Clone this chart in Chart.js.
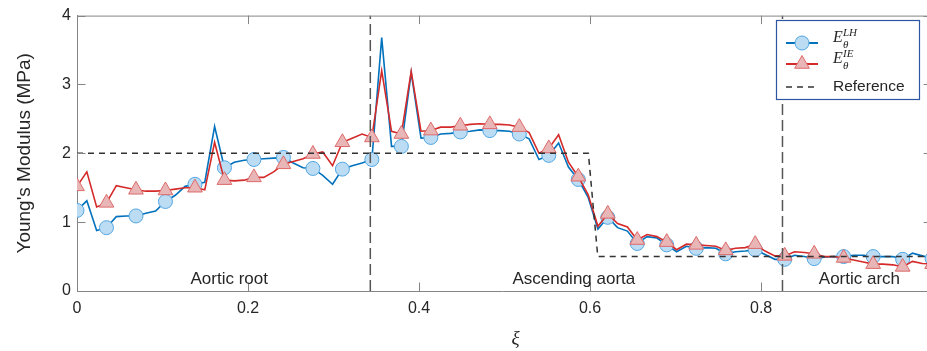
<!DOCTYPE html>
<html>
<head>
<meta charset="utf-8">
<script src="https://cdn.jsdelivr.net/npm/chart.js@4.4.1/dist/chart.umd.min.js"></script>
<style>
  html, body { margin: 0; padding: 0; background: #fff; overflow: hidden; }
  canvas { display: block; }
</style>
</head>
<body>
<canvas id="modulusChart" width="927" height="351"></canvas>
<script>
// E_theta sampled along the normalised centreline xi (88 samples, marker every 3rd)
const E_LH = [
  1.17, 1.31, 0.88, 0.92, 1.08, 1.09, 1.09, 1.13, 1.16, 1.30,
  1.39, 1.52, 1.55, 1.58, 2.39, 1.79, 1.87, 1.90, 1.91, 1.92,
  1.93, 1.94, 1.86, 1.79, 1.78, 1.68, 1.55, 1.77, 1.82, 1.86,
  1.91, 3.68, 2.10, 2.10, 3.17, 2.22, 2.23, 2.28, 2.29, 2.31,
  2.32, 2.34, 2.33, 2.33, 2.32, 2.28, 2.21, 1.91, 1.97, 2.15,
  1.80, 1.62, 1.36, 0.90, 1.07, 0.92, 0.87, 0.69, 0.79, 0.77,
  0.67, 0.57, 0.65, 0.62, 0.63, 0.62, 0.54, 0.57, 0.58, 0.60,
  0.53, 0.46, 0.46, 0.52, 0.50, 0.47, 0.49, 0.50, 0.50, 0.52,
  0.52, 0.50, 0.50, 0.50, 0.46, 0.55, 0.51, 0.47
];
const E_IE = [
  1.52, 1.73, 1.22, 1.28, 1.53, 1.50, 1.47, 1.45, 1.45, 1.46,
  1.48, 1.50, 1.50, 1.47, 2.16, 1.61, 1.60, 1.61, 1.65, 1.65,
  1.73, 1.84, 1.88, 1.92, 1.99, 2.02, 1.82, 2.16, 2.22, 2.28,
  2.23, 3.20, 2.32, 2.28, 3.19, 2.32, 2.33, 2.38, 2.38, 2.40,
  2.42, 2.43, 2.42, 2.42, 2.41, 2.38, 2.30, 2.00, 2.07, 2.27,
  1.87, 1.66, 1.40, 0.94, 1.12, 0.98, 0.93, 0.74, 0.82, 0.79,
  0.71, 0.60, 0.68, 0.67, 0.66, 0.65, 0.59, 0.62, 0.63, 0.68,
  0.58, 0.51, 0.51, 0.57, 0.56, 0.54, 0.50, 0.50, 0.48, 0.45,
  0.42, 0.39, 0.39, 0.38, 0.35, 0.43, 0.40, 0.39
];
// reference stiffness (step profile)
const refX = [0, 0.598, 0.609, 1];
const refY = [2, 2, 0.5, 0.5];

// segment boundaries and names
const regionBounds = [0.343, 0.825];
const regionNames = ['Aortic root', 'Ascending aorta', 'Aortic arch'];
const regionNameX = [0.178, 0.581, 0.915];

const xTickValues = [0, 0.2, 0.4, 0.6, 0.8];
const xTickLabels = ['0', '0.2', '0.4', '0.6', '0.8'];
const yTickValues = [0, 1, 2, 3, 4];
const xTitle = '\u03BE';

const SANS = '"Liberation Sans", Arial, sans-serif';
const SERIF = '"Liberation Serif", "Times New Roman", serif';
const textColor = '#262626';
const axisColor = '#858585';
const blue = { line: '#0072BD', fill: '#BCDCF4', edge: '#52A6E2' };
const red = { line: '#D42A2A', fill: '#E8B6B6', edge: '#DE6A6A' };

const xi = E_LH.map((_, i) => i / (E_LH.length - 1));
const markerEvery = (r) => (ctx) => (ctx.dataIndex % 3 === 0 ? r : 0);

// axes box, inward ticks, region names, x title and the legend
const decorPlugin = {
  id: 'decor',
  afterDraw(chart) {
    const { ctx, chartArea: a, scales: { x, y } } = chart;
    ctx.save();
    ctx.strokeStyle = axisColor;
    ctx.lineWidth = 1;
    ctx.beginPath();
    ctx.moveTo(a.left, a.top + 0.5);
    ctx.lineTo(a.right, a.top + 0.5);
    xTickValues.forEach(v => {
      const px = Math.round(x.getPixelForValue(v)) + 0.5;
      ctx.moveTo(px, a.bottom); ctx.lineTo(px, a.bottom - 8.5);
      ctx.moveTo(px, a.top); ctx.lineTo(px, a.top + 8.5);
    });
    const rx = x.getPixelForValue(1);
    yTickValues.forEach(v => {
      const py = Math.round(y.getPixelForValue(v)) + 0.5;
      ctx.moveTo(a.left, py); ctx.lineTo(a.left + 8.5, py);
      ctx.moveTo(rx, py); ctx.lineTo(rx - 8.5, py);
    });
    ctx.stroke();

    // region names
    ctx.fillStyle = textColor;
    ctx.font = '17px ' + SANS;
    ctx.textAlign = 'center';
    ctx.textBaseline = 'alphabetic';
    regionNames.forEach((name, i) => {
      ctx.fillText(name, x.getPixelForValue(regionNameX[i]), y.getPixelForValue(0) - 7);
    });

    // x title (sits slightly right of centre in the original)
    ctx.font = 'italic 19px ' + SERIF;
    ctx.textBaseline = 'middle';
    ctx.fillText(xTitle, x.getPixelForValue(0.513), 339);
    ctx.textBaseline = 'alphabetic';

    // legend
    const lx = 776, ly = 20, lw = 143, lh = 79;
    ctx.fillStyle = '#ffffff';
    ctx.fillRect(lx, ly, lw, lh);
    ctx.strokeStyle = '#2F55A0';
    ctx.lineWidth = 1.2;
    ctx.strokeRect(lx + 0.5, ly + 0.5, lw, lh);

    const rows = [43, 64, 87];
    const sx0 = 786, sx1 = 818, smid = 802;
    // LH sample
    ctx.lineWidth = 2;
    ctx.strokeStyle = blue.line;
    ctx.beginPath(); ctx.moveTo(sx0, rows[0]); ctx.lineTo(sx1, rows[0]); ctx.stroke();
    ctx.beginPath(); ctx.arc(smid, rows[0], 7, 0, Math.PI * 2);
    ctx.fillStyle = blue.fill; ctx.fill();
    ctx.lineWidth = 1; ctx.strokeStyle = blue.edge; ctx.stroke();
    // IE sample
    ctx.lineWidth = 2;
    ctx.strokeStyle = red.line;
    ctx.beginPath(); ctx.moveTo(sx0, rows[1]); ctx.lineTo(sx1, rows[1]); ctx.stroke();
    const r = 8.5;
    ctx.beginPath();
    for (let k = 0; k < 3; k++) {
      const ang = k * 2 * Math.PI / 3;
      const px = smid + Math.sin(ang) * r, py = rows[1] - Math.cos(ang) * r;
      if (k === 0) ctx.moveTo(px, py); else ctx.lineTo(px, py);
    }
    ctx.closePath();
    ctx.fillStyle = red.fill; ctx.fill();
    ctx.lineWidth = 1; ctx.strokeStyle = red.edge; ctx.stroke();
    // reference sample
    ctx.strokeStyle = '#333333';
    ctx.lineWidth = 1.5;
    ctx.setLineDash([6, 5]);
    ctx.beginPath(); ctx.moveTo(sx0, rows[2]); ctx.lineTo(sx1, rows[2]); ctx.stroke();
    ctx.setLineDash([]);

    // labels: E_theta^LH, E_theta^IE, Reference
    ctx.fillStyle = textColor;
    ctx.textAlign = 'left';
    const drawE = (sup, cy) => {
      ctx.font = 'italic 16px ' + SERIF;
      ctx.fillText('E', 833, cy - 1);
      ctx.font = 'italic 11px ' + SERIF;
      ctx.fillText(sup, 843, cy - 7);
      ctx.fillText('\u03B8', 843, cy + 5);
    };
    drawE('LH', rows[0]);
    drawE('IE', rows[1]);
    ctx.font = '15.5px ' + SANS;
    ctx.textBaseline = 'middle';
    ctx.fillText('Reference', 833, rows[2]);
    ctx.restore();
  }
};

const toXY = (xs, ys) => xs.map((v, i) => ({ x: v, y: ys[i] }));

new Chart(document.getElementById('modulusChart'), {
  type: 'line',
  data: {
    datasets: [
      {
        label: 'Reference',
        data: toXY(refX, refY),
        borderColor: '#333333',
        borderWidth: 1.5,
        borderDash: [6, 5],
        pointRadius: 0,
        order: 0
      },
      ...regionBounds.map(b => ({
        label: 'boundary',
        data: [{ x: b, y: 0 }, { x: b, y: 4 }],
        borderColor: '#555555',
        borderWidth: 1.5,
        borderDash: [11, 5],
        pointRadius: 0,
        order: 0
      })),
      {
        label: 'E_theta^IE',
        data: toXY(xi, E_IE),
        borderColor: red.line,
        borderWidth: 1.6,
        pointStyle: 'triangle',
        pointRadius: markerEvery(8.5),
        pointBackgroundColor: red.fill,
        pointBorderColor: red.edge,
        pointBorderWidth: 1,
        order: 1
      },
      {
        label: 'E_theta^LH',
        data: toXY(xi, E_LH),
        borderColor: blue.line,
        borderWidth: 1.6,
        pointStyle: 'circle',
        pointRadius: markerEvery(7),
        pointBackgroundColor: blue.fill,
        pointBorderColor: blue.edge,
        pointBorderWidth: 1,
        order: 2
      }
    ]
  },
  options: {
    responsive: false,
    maintainAspectRatio: false,
    animation: false,
    devicePixelRatio: 1,
    layout: { autoPadding: false, padding: { top: 14, right: 0, left: 0, bottom: 0 } },
    elements: { line: { tension: 0 } },
    plugins: { legend: { display: false }, tooltip: { enabled: false } },
    scales: {
      x: {
        type: 'linear',
        min: 0,
        max: 0.994,
        afterBuildTicks: (scale) => { scale.ticks = xTickValues.map(v => ({ value: v })); },
        afterFit: (scale) => { scale.height = 60; scale.paddingRight = 0; scale.paddingLeft = 0; },
        grid: { display: true, drawOnChartArea: false, drawTicks: false },
        border: { display: true, color: axisColor, width: 1 },
        ticks: {
          padding: 8,
          color: textColor,
          font: { family: SANS, size: 16 },
          maxRotation: 0,
          callback: (v) => xTickLabels[xTickValues.indexOf(v)] ?? ''
        },
        title: { display: false }
      },
      y: {
        min: 0,
        max: 4,
        afterFit: (scale) => { scale.width = 77; },
        grid: { display: true, drawOnChartArea: false, drawTicks: false },
        border: { display: true, color: axisColor, width: 1 },
        ticks: {
          stepSize: 1,
          padding: 6,
          color: textColor,
          font: { family: SANS, size: 16 }
        },
        title: {
          display: true,
          text: "Young's Modulus (MPa)",
          color: textColor,
          font: { family: SANS, size: 19 },
          padding: { top: 13, bottom: 0 }
        }
      }
    }
  },
  plugins: [decorPlugin]
});
</script>
</body>
</html>
